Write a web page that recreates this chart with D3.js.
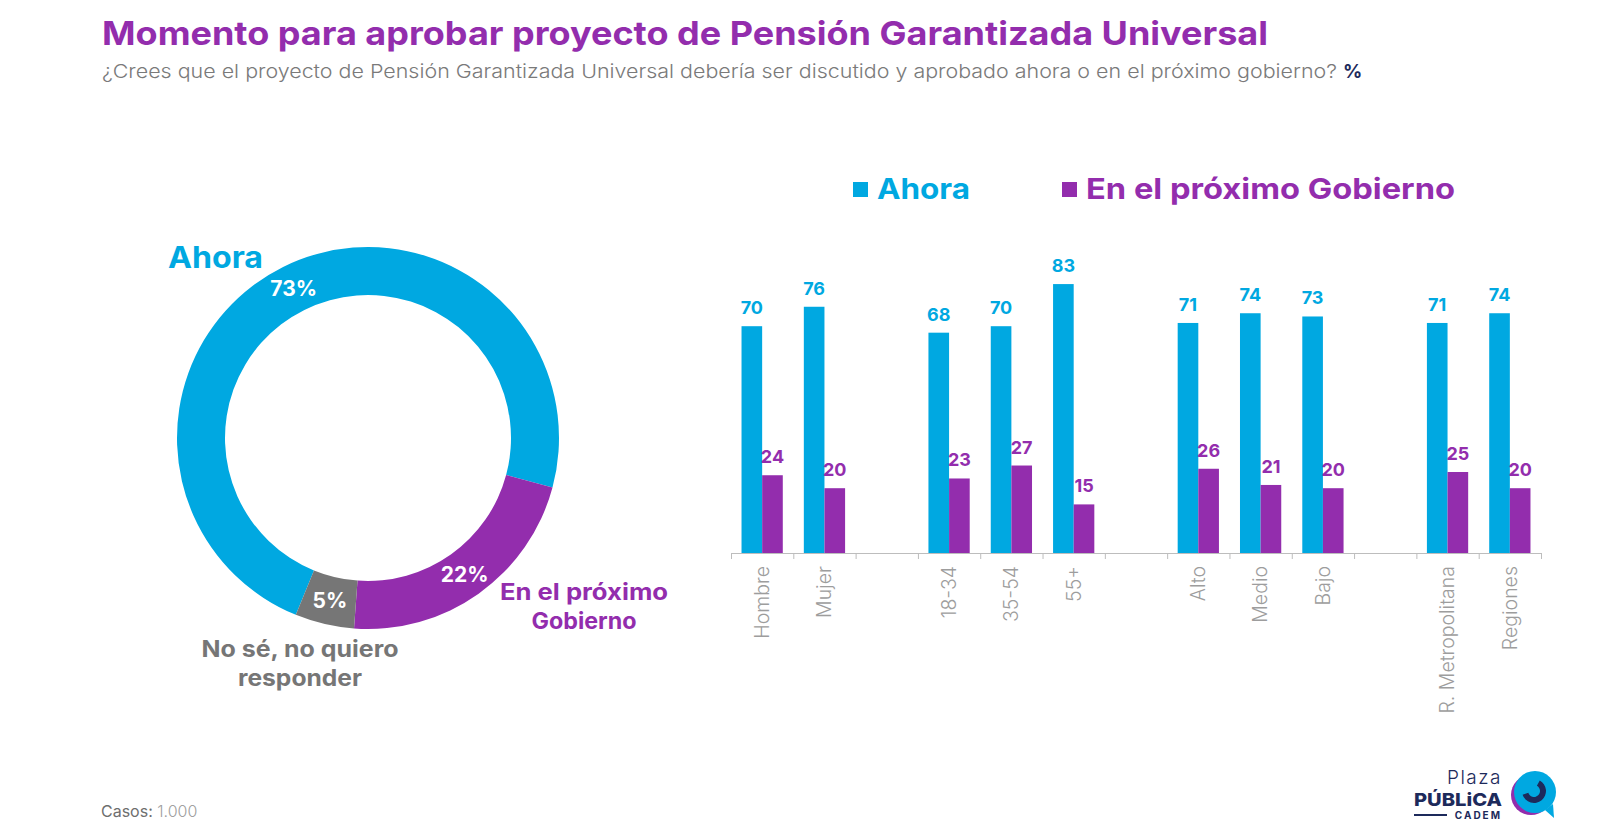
<!DOCTYPE html>
<html>
<head>
<meta charset="utf-8">
<script src="https://cdn.jsdelivr.net/npm/d3@7"></script>
<style>
  html, body { margin: 0; padding: 0; background: #ffffff; }
  svg { display: block; }
  text { font-family: "Inter", "Lato", "Noto Sans", sans-serif; }
</style>
</head>
<body>
<svg id="chart" width="1600" height="840"></svg>
<script>
// ---------- DATA ----------
const titleText = "Momento para aprobar proyecto de Pensión Garantizada Universal";
const subtitleText = "¿Crees que el proyecto de Pensión Garantizada Universal debería ser discutido y aprobado ahora o en el próximo gobierno?";
const donutLabels = ["Ahora", "En el próximo Gobierno", "No sé, no quiero responder"];
const donutValues = [73, 22, 5];
const categories = ["Hombre", "Mujer", "18-34", "35-54", "55+", "Alto", "Medio", "Bajo", "R. Metropolitana", "Regiones"];
const categoryGroup = [0, 0, 1, 1, 1, 2, 2, 2, 3, 3];
const seriesNames = ["Ahora", "En el próximo Gobierno"];
const ahoraValues = [70, 76, 68, 70, 83, 71, 74, 73, 71, 74];
const proximoValues = [24, 20, 23, 27, 15, 26, 21, 20, 25, 20];
const casosText = "1.000";

// ---------- STYLE ----------
const CYAN = "#00A8E1";
const PURPLE = "#932DAD";
const GRAY = "#767676";
const NAVY = "#1d2a5b";

const svg = d3.select("#chart");

// Title & subtitle
svg.append("text").attr("x", 102).attr("y", 45)
  .attr("font-size", 33).attr("font-weight", 700).attr("fill", PURPLE)
  .attr("textLength", 1166).attr("lengthAdjust", "spacingAndGlyphs")
  .text(titleText);
svg.append("text").attr("x", 102).attr("y", 78)
  .attr("font-size", 19).attr("font-weight", 300).attr("fill", "#7a7a7a")
  .attr("textLength", 1235).attr("lengthAdjust", "spacingAndGlyphs")
  .text(subtitleText);
svg.append("text").attr("x", 1343).attr("y", 78)
  .attr("font-size", 19).attr("font-weight", 700).attr("fill", NAVY)
  .text("%");

// ---------- DONUT ----------
const donutColors = [CYAN, PURPLE, GRAY];
const cx = 368, cy = 438, rOuter = 191, rInner = 143;
const pie = d3.pie().sort(null).value(d => d)
  .startAngle(-157.8 * Math.PI / 180).endAngle(202.2 * Math.PI / 180);
const arc = d3.arc().innerRadius(rInner).outerRadius(rOuter);
const arcs = pie(donutValues);
const gd = svg.append("g").attr("transform", `translate(${cx},${cy})`);
gd.selectAll("path").data(arcs).enter().append("path")
  .attr("d", arc).attr("fill", (d, i) => donutColors[i]);
gd.selectAll("text.pct").data(arcs).enter().append("text")
  .attr("class", "pct")
  .attr("transform", d => `translate(${arc.centroid(d)})`)
  .attr("text-anchor", "middle").attr("dy", "0.36em")
  .attr("font-size", 21).attr("font-weight", 700).attr("fill", "#fff")
  .text(d => d.value + "%");

// Outside donut labels
svg.append("text").attr("x", 168).attr("y", 268)
  .attr("font-size", 30).attr("font-weight", 700).attr("fill", CYAN)
  .attr("textLength", 95).attr("lengthAdjust", "spacingAndGlyphs")
  .text(donutLabels[0]);
function twoLine(lines, cxL, y0, lens, color) {
  lines.forEach((t, i) => {
    svg.append("text").attr("x", cxL).attr("y", y0 + i * 28.5)
      .attr("text-anchor", "middle")
      .attr("font-size", 22.5).attr("font-weight", 700).attr("fill", color)
      .attr("textLength", lens[i]).attr("lengthAdjust", "spacingAndGlyphs")
      .text(t);
  });
}
twoLine(["En el próximo", "Gobierno"], 584, 600, [168, 105], PURPLE);
twoLine(["No sé, no quiero", "responder"], 300, 657, [197, 124], GRAY);

// ---------- LEGEND ----------
const legendX = [853, 1062];
const legendColors = [CYAN, PURPLE];
const legendLen = [93, 369];
seriesNames.forEach((name, i) => {
  svg.append("rect").attr("x", legendX[i]).attr("y", 182).attr("width", 15).attr("height", 15)
    .attr("fill", legendColors[i]);
  svg.append("text").attr("x", legendX[i] + 24).attr("y", 199)
    .attr("font-size", 29).attr("font-weight", 700).attr("fill", legendColors[i])
    .attr("textLength", legendLen[i]).attr("lengthAdjust", "spacingAndGlyphs")
    .text(name);
});

// ---------- BAR CHART ----------
const nSlots = categories.length + d3.max(categoryGroup);
const slotIndex = categories.map((c, i) => i + categoryGroup[i]);
const axisY = 553;
const x = d3.scaleBand().domain(d3.range(nSlots)).range([731, 1541]).padding(0);
const xInner = d3.scaleBand().domain([0, 1]).range([0, x.bandwidth()]).paddingInner(0).paddingOuter(0.51);
const y = d3.scaleLinear().domain([0, 100]).range([axisY, 229]);
const seriesVals = [ahoraValues, proximoValues];
const seriesColors = [CYAN, PURPLE];

const gb = svg.append("g");
seriesVals.forEach((vals, s) => {
  gb.selectAll(`rect.s${s}`).data(vals).enter().append("rect")
    .attr("class", `s${s}`)
    .attr("x", (d, i) => x(slotIndex[i]) + xInner(s))
    .attr("width", xInner.bandwidth())
    .attr("y", d => y(d))
    .attr("height", d => y(0) - y(d))
    .attr("fill", seriesColors[s]);
});
seriesVals.forEach((vals, s) => {
  gb.selectAll(`text.v${s}`).data(vals).enter().append("text")
    .attr("class", `v${s}`)
    .attr("x", (d, i) => x(slotIndex[i]) + xInner(s) + xInner.bandwidth() / 2)
    .attr("y", d => y(d) - 12)
    .attr("text-anchor", "middle")
    .attr("font-size", 18).attr("font-weight", 700).attr("fill", seriesColors[s])
    .text(d => d);
});

// Axis with ticks at slot boundaries
const xb = d3.scaleLinear().domain([0, nSlots]).range([731, 1541]);
const axis = d3.axisBottom(xb).tickValues(d3.range(nSlots + 1)).tickFormat("").tickSize(6).tickSizeOuter(0);
const ga = svg.append("g").attr("transform", `translate(0,${axisY})`).call(axis);
ga.select(".domain").attr("stroke", "#bdbdbd").attr("stroke-width", 1.2);
ga.selectAll(".tick line").attr("stroke", "#bdbdbd");

// Category labels (rotated)
svg.selectAll("text.cat").data(categories).enter().append("text")
  .attr("class", "cat")
  .attr("transform", (d, i) => `translate(${x(slotIndex[i]) + x.bandwidth() / 2},566) rotate(-90)`)
  .attr("text-anchor", "end").attr("dy", "0.35em")
  .attr("font-size", 19.5).attr("font-weight", 300).attr("fill", "#9d9d9d")
  .text(d => d);

// ---------- FOOTER ----------
const casos = svg.append("text").attr("x", 101).attr("y", 817).attr("font-size", 16);
casos.append("tspan").attr("fill", "#6e6e6e").attr("font-weight", 400).text("Casos: ");
casos.append("tspan").attr("fill", "#a0a0a0").attr("font-weight", 300).text(casosText);

// Logo
const lg = svg.append("g");
lg.append("text").attr("x", 1502).attr("y", 784).attr("text-anchor", "end")
  .attr("font-size", 19).attr("font-weight", 300).attr("fill", NAVY).attr("letter-spacing", 1.5).text("Plaza");
lg.append("text").attr("x", 1414).attr("y", 806)
  .attr("font-size", 18).attr("font-weight", 800).attr("fill", NAVY)
  .attr("textLength", 88).attr("lengthAdjust", "spacingAndGlyphs").text("PÚBLiCA");
lg.append("line").attr("x1", 1414).attr("x2", 1447).attr("y1", 815).attr("y2", 815)
  .attr("stroke", NAVY).attr("stroke-width", 2);
lg.append("text").attr("x", 1502).attr("y", 819).attr("text-anchor", "end")
  .attr("font-size", 10).attr("font-weight", 700).attr("fill", NAVY).attr("letter-spacing", 2).text("CADEM");
const bx = 1535, by = 792;
lg.append("path").attr("d", `M${bx + 10},${by + 18} L${bx + 19},${by + 26} L${bx + 18},${by + 12} Z`).attr("fill", CYAN);
lg.append("circle").attr("cx", bx - 4).attr("cy", by + 3).attr("r", 20).attr("fill", PURPLE);
lg.append("circle").attr("cx", bx).attr("cy", by).attr("r", 21).attr("fill", CYAN);
lg.append("path")
  .attr("d", d3.arc().innerRadius(6).outerRadius(12).startAngle(0.5).endAngle(4.4)())
  .attr("transform", `translate(${bx - 1},${by - 1})`).attr("fill", NAVY);
</script>
</body>
</html>
